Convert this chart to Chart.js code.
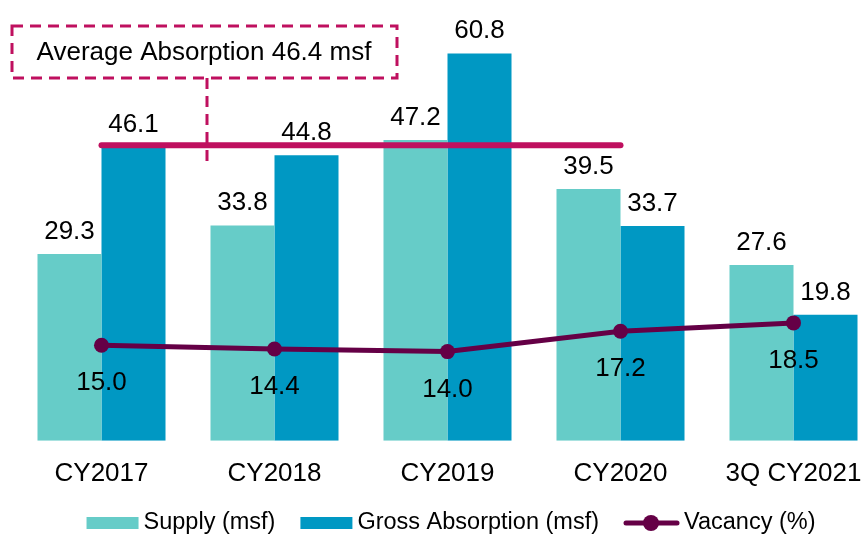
<!DOCTYPE html>
<html>
<head>
<meta charset="utf-8">
<script src="https://cdn.jsdelivr.net/npm/chart.js@4.4.0/dist/chart.umd.min.js"></script>
<style>
html, body { margin: 0; padding: 0; background: #fff; overflow: hidden; }
#wrap { width: 900px; height: 534px; }
</style>
</head>
<body>
<div id="wrap"><canvas id="officeChart" width="900" height="534"></canvas></div>
<script>
// DATA
var years = ['CY2017', 'CY2018', 'CY2019', 'CY2020', '3Q CY2021'];
var supply = [29.3, 33.8, 47.2, 39.5, 27.6];
var grossAbsorption = [46.1, 44.8, 60.8, 33.7, 19.8];
var vacancy = [15.0, 14.4, 14.0, 17.2, 18.5];
var avgAbsorption = [46.4, 46.4, 46.4, 46.4, null];
var avgNote = 'Average Absorption 46.4 msf';

var FONT = '"Liberation Sans", Arial, sans-serif';
var SUPPLY_COL = '#66CCC8';
var ABS_COL = '#0098C3';
var VAC_COL = '#650046';
var AVG_COL = '#BF105F';

// value labels: above bars, below vacancy points
var valueLabels = {
    id: 'valueLabels',
    afterDatasetsDraw: function(chart) {
        var ctx = chart.ctx;
        ctx.save();
        ctx.font = '26px ' + FONT;
        ctx.fillStyle = '#000';
        ctx.textAlign = 'center';
        ctx.textBaseline = 'alphabetic';
        chart.data.datasets.forEach(function(ds, i) {
            if (!ds.labelPos) return;
            var meta = chart.getDatasetMeta(i);
            meta.data.forEach(function(el, j) {
                var v = ds.data[j];
                if (v == null) return;
                var y = ds.labelPos === 'above' ? el.y - 15 : el.y + 45;
                ctx.fillText(v.toFixed(1), el.x, y);
            });
        });
        ctx.restore();
    }
};

// dashed call-out for the average line
var avgCallout = {
    id: 'avgCallout',
    afterDraw: function(chart) {
        var ctx = chart.ctx;
        var yAvg = chart.scales.y.getPixelForValue(avgAbsorption[0]);
        ctx.save();
        ctx.strokeStyle = AVG_COL;
        ctx.lineWidth = 3;
        ctx.setLineDash([11, 7]);
        ctx.strokeRect(12, 26, 385, 52);
        ctx.beginPath();
        ctx.moveTo(207, 78);
        ctx.lineTo(207, yAvg + 18);
        ctx.stroke();
        ctx.setLineDash([]);
        ctx.font = '26px ' + FONT;
        ctx.fillStyle = '#000';
        ctx.textAlign = 'center';
        ctx.textBaseline = 'middle';
        ctx.fillText(avgNote, 204, 53);
        ctx.restore();
    }
};

// bottom legend (box for bars, line+dot for vacancy)
var bottomLegend = {
    id: 'bottomLegend',
    afterDraw: function(chart) {
        var ctx = chart.ctx;
        var items = chart.data.datasets.filter(function(d) { return d.legendPos; })
            .sort(function(a, b) { return a.legendPos - b.legendPos; });
        ctx.save();
        ctx.font = '23.5px ' + FONT;
        var gap = 25, sw = 52, tgap = 5;
        var total = 0;
        items.forEach(function(d, k) {
            total += sw + tgap + ctx.measureText(d.label).width + (k ? gap : 0);
        });
        var area = chart.chartArea;
        var x = (area.left + area.right) / 2 + 2 - total / 2;
        var cy = 523;
        ctx.textBaseline = 'middle';
        ctx.textAlign = 'left';
        items.forEach(function(d) {
            if (d.type === 'line') {
                ctx.strokeStyle = d.borderColor;
                ctx.lineWidth = 5;
                ctx.lineCap = 'round';
                ctx.beginPath();
                ctx.moveTo(x + 2, cy);
                ctx.lineTo(x + sw + 1, cy);
                ctx.stroke();
                ctx.fillStyle = d.borderColor;
                ctx.beginPath();
                ctx.arc(x + sw / 2 + 1, cy, 8, 0, Math.PI * 2);
                ctx.fill();
                x += 3;
            } else {
                ctx.fillStyle = d.backgroundColor;
                ctx.fillRect(x, cy - 6, sw, 12);
            }
            x += sw + tgap;
            ctx.fillStyle = '#000';
            ctx.fillText(d.label, x, cy);
            x += ctx.measureText(d.label).width + gap;
        });
        ctx.restore();
    }
};

var ctx = document.getElementById('officeChart').getContext('2d');
var officeChart = new Chart(ctx, {
    type: 'bar',
    data: {
        labels: years,
        datasets: [
            {
                type: 'line',
                label: 'Vacancy (%)',
                data: vacancy,
                borderColor: VAC_COL,
                backgroundColor: VAC_COL,
                borderWidth: 5,
                pointRadius: 7.5,
                pointBorderWidth: 0,
                pointBackgroundColor: VAC_COL,
                tension: 0,
                order: 0,
                labelPos: 'below',
                legendPos: 3
            },
            {
                type: 'line',
                label: 'Average Absorption',
                data: avgAbsorption,
                borderColor: AVG_COL,
                borderWidth: 6,
                borderCapStyle: 'round',
                pointRadius: 0,
                spanGaps: false,
                order: 1
            },
            {
                label: 'Supply (msf)',
                data: supply,
                backgroundColor: SUPPLY_COL,
                order: 2,
                labelPos: 'above',
                legendPos: 1
            },
            {
                label: 'Gross Absorption (msf)',
                data: grossAbsorption,
                backgroundColor: ABS_COL,
                order: 2,
                labelPos: 'above',
                legendPos: 2
            }
        ]
    },
    options: {
        responsive: false,
        animation: false,
        layout: {padding: {left: 15, right: 20, top: 2, bottom: 28}},
        datasets: {bar: {categoryPercentage: 0.74, barPercentage: 1}},
        plugins: {
            legend: {display: false},
            tooltip: {enabled: false}
        },
        scales: {
            x: {
                grid: {display: false, drawTicks: false},
                border: {display: false},
                ticks: {color: '#000', padding: 17, font: {family: FONT, size: 26}}
            },
            y: {
                display: false,
                min: 0,
                max: 68
            }
        }
    },
    plugins: [valueLabels, avgCallout, bottomLegend]
});
</script>
</body>
</html>
